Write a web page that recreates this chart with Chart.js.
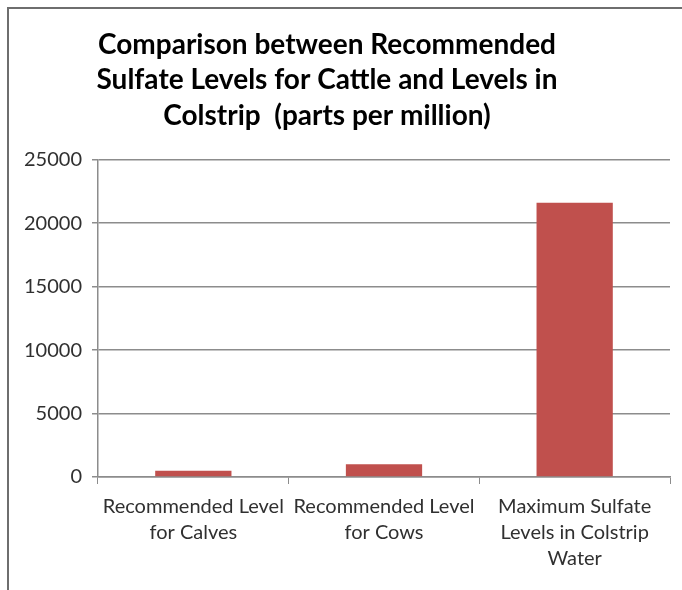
<!DOCTYPE html>
<html>
<head>
<meta charset="utf-8">
<script src="https://cdn.jsdelivr.net/npm/chart.js@4"></script>
<style>
  html, body { margin: 0; padding: 0; background: #fff; }
  #wrap { position: relative; width: 682px; height: 590px; overflow: hidden; }
  #frame { position: absolute; left: 7px; top: 7px; width: 700px; height: 600px;
           border-left: 2px solid #6e6e6e; border-top: 2px solid #6e6e6e; pointer-events: none; }
  canvas { position: absolute; left: 0; top: 0; }
</style>
</head>
<body>
<div id="wrap">
  <canvas id="chart" width="682" height="590"></canvas>
  <div id="frame"></div>
</div>
<script>
// chart data
const categories = [
  ['Recommended Level', 'for Calves'],
  ['Recommended Level', 'for Cows'],
  ['Maximum Sulfate', 'Levels in Colstrip', 'Water']
];
const sulfateLevels = [500, 1000, 21600];
const titleLines = [
  'Comparison between Recommended',
  'Sulfate Levels for Cattle and Levels in',
  'Colstrip  (parts per million)'
];
const yMax = 25000;
const yStep = 5000;

// the title in the original sits a bit left of the canvas centre
const shiftTitle = {
  id: 'shiftTitle',
  afterLayout(chart) {
    const t = chart.titleBlock;
    if (t) { t.left = 0; t.right = 654; }
  }
};

const ctx = document.getElementById('chart').getContext('2d');
new Chart(ctx, {
  type: 'bar',
  data: {
    labels: categories,
    datasets: [{
      label: 'Sulfate',
      data: sulfateLevels,
      backgroundColor: '#c0504d',
      borderWidth: 0,
      categoryPercentage: 1,
      barPercentage: 0.4
    }]
  },
  options: {
    responsive: false,
    animation: false,
    layout: { padding: { left: 8, right: 12, top: 0, bottom: 0 } },
    plugins: {
      legend: { display: false },
      tooltip: { enabled: false },
      title: {
        display: true,
        text: titleLines,
        color: '#000',
        font: { family: 'Lato', size: 28, weight: 'bold', lineHeight: 1.27 },
        padding: { top: 27, bottom: 26 }
      }
    },
    scales: {
      x: {
        grid: { display: true, drawOnChartArea: false, offset: true, tickLength: 7, color: '#8c8c8c' },
        border: { display: true, color: '#8c8c8c', width: 1.5 },
        ticks: {
          color: '#303030',
          maxRotation: 0,
          autoSkip: false,
          padding: 10,
          font: { family: 'Lato', size: 20, lineHeight: 1.3 }
        },
        afterFit: (s) => { s.height = 113; }
      },
      y: {
        min: 0,
        max: yMax,
        grid: { color: '#8c8c8c', lineWidth: 1.5, tickLength: 6 },
        border: { display: true, color: '#8c8c8c', width: 1.5 },
        ticks: {
          stepSize: yStep,
          color: '#303030',
          padding: 10,
          font: { family: 'Lato', size: 20 },
          callback: (v) => String(v)
        },
        afterFit: (s) => { s.width = 90; }
      }
    }
  },
  plugins: [shiftTitle]
});
</script>
</body>
</html>
